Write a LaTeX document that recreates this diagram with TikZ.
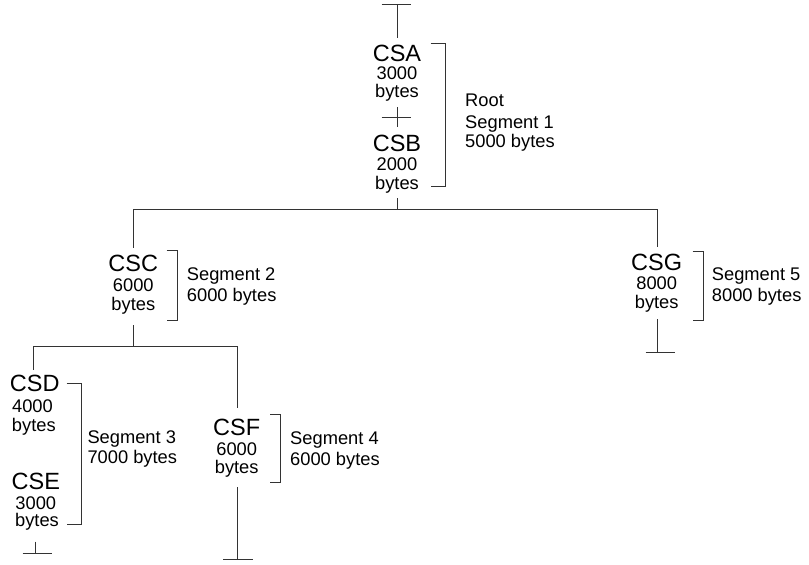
\documentclass[tikz,border=0pt]{standalone}
\usepackage{fontspec}
\setmainfont{Liberation Sans}
\begin{document}
\begin{tikzpicture}[x=1pt,y=-1pt,
  big/.style={font=\fontsize{23.5}{24}\selectfont, inner sep=0pt, anchor=base, text=black, text height=16.5pt, text depth=0pt},
  small/.style={font=\fontsize{18.3}{20}\selectfont, inner sep=0pt, anchor=base, text=black, text height=13pt, text depth=3.5pt},
  seglabel/.style={small, anchor=base west},
  conn/.style={draw=black!80, line width=1pt},
  brk/.style={draw=black!80, line width=1pt}]
\useasboundingbox (0,0) rectangle (809,565);

% ---- Root segment: CSA, CSB
\node[big]   (CSA)  at (397,61)   {CSA};
\node[small] (CSAn) at (397,79.7) {3000};
\node[small] (CSAb) at (397,97)   {bytes};
\node[big]   (CSB)  at (397,151.7){CSB};
\node[small] (CSBn) at (397,170.7){2000};
\node[small] (CSBb) at (397,189)  {bytes};
\node[seglabel] (L1a) at (465,106.7) {Root};
\node[seglabel] (L1b) at (465,128)   {Segment 1};
\node[seglabel] (L1c) at (465,147)   {5000 bytes};

% ---- CSC
\node[big]   (CSC)  at (133.3,271.7) {CSC};
\node[small] (CSCn) at (133.3,291.7) {6000};
\node[small] (CSCb) at (133.3,310)   {bytes};
\node[seglabel] (L2a) at (186.7,280.7) {Segment 2};
\node[seglabel] (L2b) at (186.7,301.7) {6000 bytes};

% ---- CSG
\node[big]   (CSG)  at (656.7,270)   {CSG};
\node[small] (CSGn) at (656.7,289.3) {8000};
\node[small] (CSGb) at (656.7,308.3) {bytes};
\node[seglabel] (L5a) at (711.7,280)   {Segment 5};
\node[seglabel] (L5b) at (711.7,301.7) {8000 bytes};

% ---- CSD, CSE
\node[big]   (CSD)  at (34.7,391.7) {CSD};
\node[small] (CSDn) at (32.5,412.3) {4000};
\node[small] (CSDb) at (33.8,431.7) {bytes};
\node[big]   (CSE)  at (35.8,489.3) {CSE};
\node[small] (CSEn) at (35.8,509.3) {3000};
\node[small] (CSEb) at (37,526.7)   {bytes};
\node[seglabel] (L3a) at (87.3,443.3) {Segment 3};
\node[seglabel] (L3b) at (87.3,463.3) {7000 bytes};

% ---- CSF
\node[big]   (CSF)  at (236.7,435)   {CSF};
\node[small] (CSFn) at (236.7,455)   {6000};
\node[small] (CSFb) at (236.7,473.3) {bytes};
\node[seglabel] (L4a) at (290,444.3) {Segment 4};
\node[seglabel] (L4b) at (290,465)   {6000 bytes};

% ---- coordinates
\coordinate (topT)  at (397,4);
\coordinate (topTl) at (381.7,4);
\coordinate (topTr) at (411,4);
\coordinate (aTop)  at (397,38);
\coordinate (mx1)   at (397,107);
\coordinate (mx2)   at (397,127);
\coordinate (mxl)   at (381.7,117.3);
\coordinate (mxr)   at (411,117.3);
\coordinate (bBot)  at (397,198);
\coordinate (bus1)  at (397,209);
\coordinate (bus1l) at (133.3,209);
\coordinate (bus1r) at (657.3,209);
\coordinate (cTop)  at (133.3,248);
\coordinate (gTop)  at (657.3,246.7);
\coordinate (cBot)  at (133.3,325);
\coordinate (bus2)  at (133.3,346);
\coordinate (bus2l) at (33.3,346);
\coordinate (bus2r) at (237.3,346);
\coordinate (dTop)  at (33.3,370);
\coordinate (fTop)  at (237.3,408.3);
\coordinate (eBot)  at (35.5,541.7);
\coordinate (eT)    at (35.5,553.3);
\coordinate (eTl)   at (22.7,553.3);
\coordinate (eTr)   at (51.7,553.3);
\coordinate (fBot)  at (237.3,487.3);
\coordinate (fT)    at (237.3,559);
\coordinate (fTl)   at (223.3,559);
\coordinate (fTr)   at (252.7,559);
\coordinate (gBot)  at (657.3,319);
\coordinate (gT)    at (657.3,352.3);
\coordinate (gTl)   at (645.7,352.3);
\coordinate (gTr)   at (675,352.3);

% ---- connectors
\draw[conn] (topTl) -- (topTr);
\draw[conn] (topT) -- (aTop);
\draw[conn] (mx1) -- (mx2);
\draw[conn] (mxl) -- (mxr);
\draw[conn] (bBot) -- (bus1);
\draw[conn] (bus1l) -- (bus1r);
\draw[conn] (bus1l) -- (cTop);
\draw[conn] (bus1r) -- (gTop);
\draw[conn] (cBot) -- (bus2);
\draw[conn] (bus2l) -- (bus2r);
\draw[conn] (bus2l) -- (dTop);
\draw[conn] (bus2r) -- (fTop);
\draw[conn] (eBot) -- (eT);
\draw[conn] (eTl) -- (eTr);
\draw[conn] (fBot) -- (fT);
\draw[conn] (fTl) -- (fTr);
\draw[conn] (gBot) -- (gT);
\draw[conn] (gTl) -- (gTr);

% ---- brackets
\draw[brk] (430.7,43) -- (445,43) -- (445,186) -- (430.7,186);
\draw[brk] (166.7,250) -- (177.3,250) -- (177.3,320) -- (166.7,320);
\draw[brk] (692.7,251) -- (703.3,251) -- (703.3,320) -- (692.7,320);
\draw[brk] (66.7,383.3) -- (81,383.3) -- (81,524) -- (66.7,524);
\draw[brk] (270,414) -- (280,414) -- (280,482.7) -- (270,482.7);
\end{tikzpicture}
\end{document}
